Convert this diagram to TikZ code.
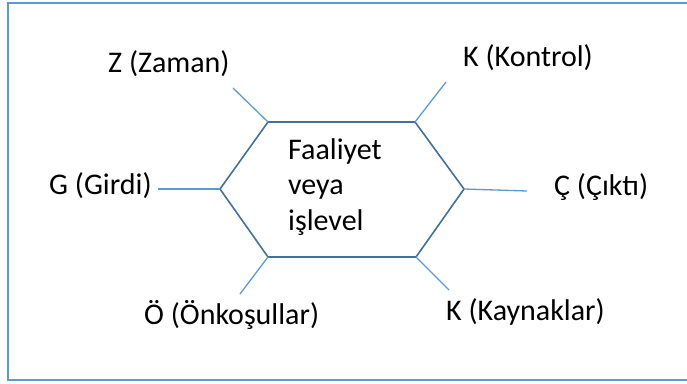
\documentclass[tikz,border=0pt]{standalone}
\usepackage{fontspec}
\setmainfont{Carlito}
\definecolor{frameblue}{HTML}{5B9BD5}
\definecolor{hexblue}{HTML}{41719C}
\begin{document}
\begin{tikzpicture}[x=1pt,y=-1pt,
  lbl/.style={font=\fontsize{30}{35.5}\selectfont, inner sep=0pt, anchor=base west},
  spoke/.style={draw=frameblue, line width=1.3pt},
  hexline/.style={draw=hexblue, line width=1.6pt, line join=miter}]
  \useasboundingbox (0,0) rectangle (687,383);
  % outer frame (runs off the right edge)
  \draw[frameblue, line width=2.2pt] (700,2.6) -- (8,2.6) -- (8,380) -- (700,380);

  % hexagon corners
  \coordinate (tl) at (268,122);
  \coordinate (tr) at (415,122);
  \coordinate (r)  at (464,189);
  \coordinate (br) at (416,257);
  \coordinate (bl) at (268,257);
  \coordinate (l)  at (220,189);
  \draw[hexline] (tl) -- (tr) -- (r) -- (br) -- (bl) -- (l) -- cycle;

  % centre text (base anchor sits on the last line)
  \node[lbl, align=left] (act) at (288,230)
    {Faaliyet\\veya\\işlevel};

  % spoke ends
  \coordinate (zend) at (233,88);
  \coordinate (kcend) at (446,82);
  \coordinate (gend) at (158,189);
  \coordinate (cend) at (527,191);
  \coordinate (oend) at (240,294);
  \coordinate (kyend) at (449,290);

  \draw[spoke] (tl) -- (zend);
  \draw[spoke] (tr) -- (kcend);
  \draw[spoke] (l) -- (gend);
  \draw[spoke] (r) -- (cend);
  \draw[spoke] (bl) -- (oend);
  \draw[spoke] (br) -- (kyend);

  % labels
  \node[lbl] (z)  at (108,72.5) {Z (Zaman)};
  \node[lbl] (kc) at (463,66.5) {K (Kontrol)};
  \node[lbl] (g)  at (49,194)   {G (Girdi)};
  \node[lbl] (c)  at (554,195)  {Ç (Çıktı)};
  \node[lbl] (o)  at (144,324)  {Ö (Önkoşullar)};
  \node[lbl] (ky) at (446,320)  {K (Kaynaklar)};
\end{tikzpicture}
\end{document}
